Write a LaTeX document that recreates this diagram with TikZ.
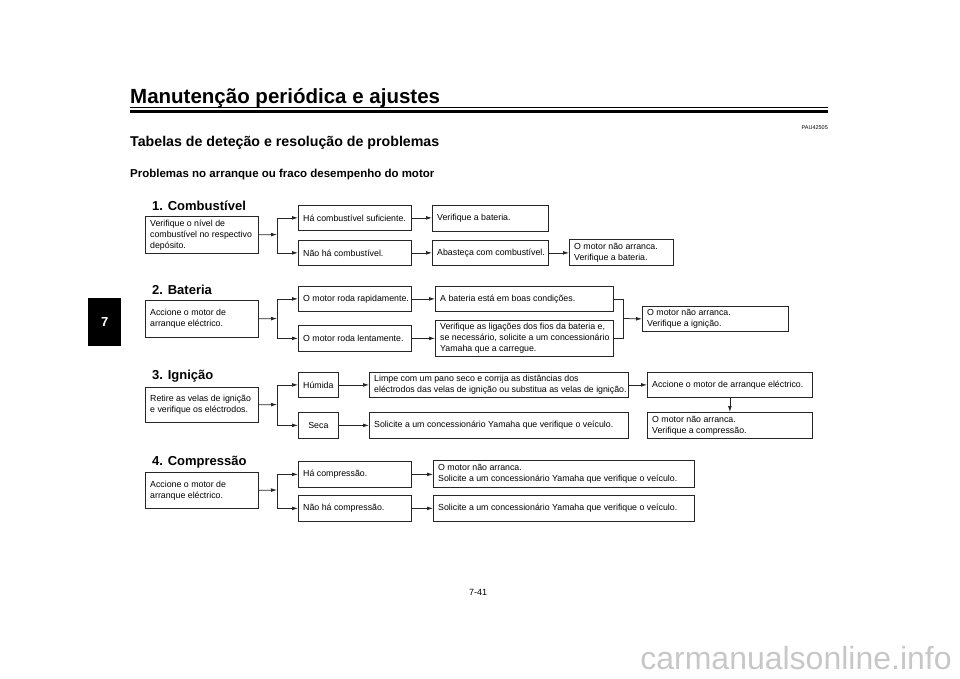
\documentclass[tikz,border=0pt]{standalone}
\usepackage{fontspec}
\setmainfont{Liberation Sans}
\usetikzlibrary{arrows.meta}
\tikzset{
  box/.style={draw=black!85, line width=0.75pt, inner sep=0pt},
  btext/.style={inner sep=0pt, align=left, font=\fontsize{8.8}{11}\selectfont},
  arr/.style={draw=black!85, line width=0.75pt, -{Latex[length=6pt,width=3.8pt]}},
  ln/.style={draw=black!85, line width=0.75pt},
  sect/.style={font=\fontsize{13}{15}\selectfont\bfseries, anchor=base west, inner sep=0pt},
}
% left-aligned text box
\newcommand\bx[6]{%
  \pgfmathsetmacro\bw{#4-#2}\pgfmathsetmacro\bh{#5-#3}%
  \node[box, minimum width=\bw pt, minimum height=\bh pt, anchor=north west] (#1) at (#2,#3) {};
  \node[btext, anchor=west] (#1t) at ([xshift=5pt]#1.west) {#6};}
% centred text box
\newcommand\cbx[6]{%
  \pgfmathsetmacro\bw{#4-#2}\pgfmathsetmacro\bh{#5-#3}%
  \node[box, minimum width=\bw pt, minimum height=\bh pt, anchor=north west] (#1) at (#2,#3) {};
  \node[btext, align=center] (#1t) at (#1.center) {#6};}
\begin{document}
\begin{tikzpicture}[x=1pt,y=-1pt]
\useasboundingbox (0,0) rectangle (960,679);
% header
\node[anchor=base west, inner sep=0pt, font=\fontsize{20.5}{22}\selectfont\bfseries] (title) at (130,104) {Manutenção periódica e ajustes};
\draw[line width=0.8pt] (130,107.5) -- (828,107.5);
\draw[line width=2.4pt] (130,111.5) -- (828,111.5);
\node[anchor=base east, inner sep=0pt, font=\fontsize{5.5}{6}\selectfont] (code) at (828,130) {PAU42505};
\node[anchor=base west, inner sep=0pt, font=\fontsize{14.2}{16}\selectfont\bfseries] (h1) at (130,147) {Tabelas de deteção e resolução de problemas};
\node[anchor=base west, inner sep=0pt, font=\fontsize{11.5}{13}\selectfont\bfseries] (h2) at (130,178) {Problemas no arranque ou fraco desempenho do motor};
% tab
\node[fill=black, minimum width=33pt, minimum height=48pt, anchor=north west, inner sep=0pt, text=white, font=\fontsize{13}{15}\selectfont\bfseries] (tab) at (88,298) {7};
% page number and watermark
\node[inner sep=0pt, font=\fontsize{9}{11}\selectfont] (pg) at (478,592) {7-41};
\node[inner sep=0pt, text=black!22, font=\fontsize{32}{34}\selectfont] (wm) at (796,658) {carmanualsonline.info};

% ===== 1. Combustivel
\node[sect] (s1) at (152,210) {1. Combustível};
\bx{A1}{145}{216}{258}{253}{Verifique o nível de\\combustível no respectivo\\depósito.}
\bx{B1}{298}{205}{411}{230}{Há combustível suficiente.}
\bx{B2}{298}{240}{411}{265}{Não há combustível.}
\bx{C1}{432}{205}{548}{231}{Verifique a bateria.}
\bx{C2}{432}{240}{548}{265}{Abasteça com combustível.}
\bx{D2}{569}{239}{673}{265}{O motor não arranca.\\Verifique a bateria.}
\coordinate (J1) at (277,234.5);
\draw[arr] (A1.east) -- (J1);
\draw[ln] (J1 |- B1.west) -- (J1 |- B2.west);
\draw[arr] (J1 |- B1.west) -- (B1.west);
\draw[arr] (J1 |- B2.west) -- (B2.west);
\draw[arr] (B1.east) -- (B1.east -| C1.west);
\draw[arr] (B2.east) -- (B2.east -| C2.west);
\draw[arr] (C2.east) -- (C2.east -| D2.west);

% ===== 2. Bateria
\node[sect] (s2) at (152,294) {2. Bateria};
\bx{A2}{145}{300}{258}{337}{Accione o motor de\\arranque eléctrico.}
\bx{B3}{298}{286}{411}{311}{O motor roda rapidamente.}
\bx{B4}{298}{325}{411}{351}{O motor roda lentamente.}
\bx{C3}{435}{286}{613}{311}{A bateria está em boas condições.}
\bx{C4}{435}{320}{613}{356}{Verifique as ligações dos fios da bateria e,\\se necessário, solicite a um concessionário\\Yamaha que a carregue.}
\bx{D3}{642}{306}{788}{331}{O motor não arranca.\\Verifique a ignição.}
\coordinate (J2) at (277,318.5);
\draw[arr] (A2.east) -- (J2);
\draw[ln] (J2 |- B3.west) -- (J2 |- B4.west);
\draw[arr] (J2 |- B3.west) -- (B3.west);
\draw[arr] (J2 |- B4.west) -- (B4.west);
\draw[arr] (B3.east) -- (B3.east -| C3.west);
\draw[arr] (B4.east) -- (B4.east -| C4.west);
\coordinate (M2) at (623,318.5);
\draw[ln] (C3.east) -- (C3.east -| M2) -- (C4.east -| M2) -- (C4.east);
\draw[arr] (M2) -- (D3.west);

% ===== 3. Ignicao
\node[sect] (s3) at (152,379) {3. Ignição};
\bx{A3}{145}{387}{258}{422}{Retire as velas de ignição\\e verifique os eléctrodos.}
\cbx{B5}{298}{372}{338}{397}{Húmida}
\cbx{B6}{298}{412}{338}{438}{Seca}
\bx{C5}{369}{372}{628}{397}{Limpe com um pano seco e corrija as distâncias dos\\eléctrodos das velas de ignição ou substitua as velas de ignição.}
\bx{C6}{369}{412}{628}{438}{Solicite a um concessionário Yamaha que verifique o veículo.}
\bx{D5}{647}{372}{812}{397}{Accione o motor de arranque eléctrico.}
\bx{D6}{647}{412}{812}{438}{O motor não arranca.\\Verifique a compressão.}
\coordinate (J3) at (277,404.5);
\draw[arr] (A3.east) -- (J3);
\draw[ln] (J3 |- B5.west) -- (J3 |- B6.west);
\draw[arr] (J3 |- B5.west) -- (B5.west);
\draw[arr] (J3 |- B6.west) -- (B6.west);
\draw[arr] (B5.east) -- (B5.east -| C5.west);
\draw[arr] (B6.east) -- (B6.east -| C6.west);
\draw[arr] (C5.east) -- (C5.east -| D5.west);
\draw[arr] (D5.south) -- (D6.north);

% ===== 4. Compressao
\node[sect] (s4) at (152,465) {4. Compressão};
\bx{A4}{145}{472}{258}{508}{Accione o motor de\\arranque eléctrico.}
\bx{B7}{298}{461}{411}{487}{Há compressão.}
\bx{B8}{298}{495}{411}{521}{Não há compressão.}
\bx{C7}{433}{460}{694}{487}{O motor não arranca.\\Solicite a um concessionário Yamaha que verifique o veículo.}
\bx{C8}{433}{495}{694}{521}{Solicite a um concessionário Yamaha que verifique o veículo.}
\coordinate (J4) at (277,490);
\draw[arr] (A4.east) -- (J4);
\draw[ln] (J4 |- B7.west) -- (J4 |- B8.west);
\draw[arr] (J4 |- B7.west) -- (B7.west);
\draw[arr] (J4 |- B8.west) -- (B8.west);
\draw[arr] (B7.east) -- (B7.east -| C7.west);
\draw[arr] (B8.east) -- (B8.east -| C8.west);
\end{tikzpicture}
\end{document}
